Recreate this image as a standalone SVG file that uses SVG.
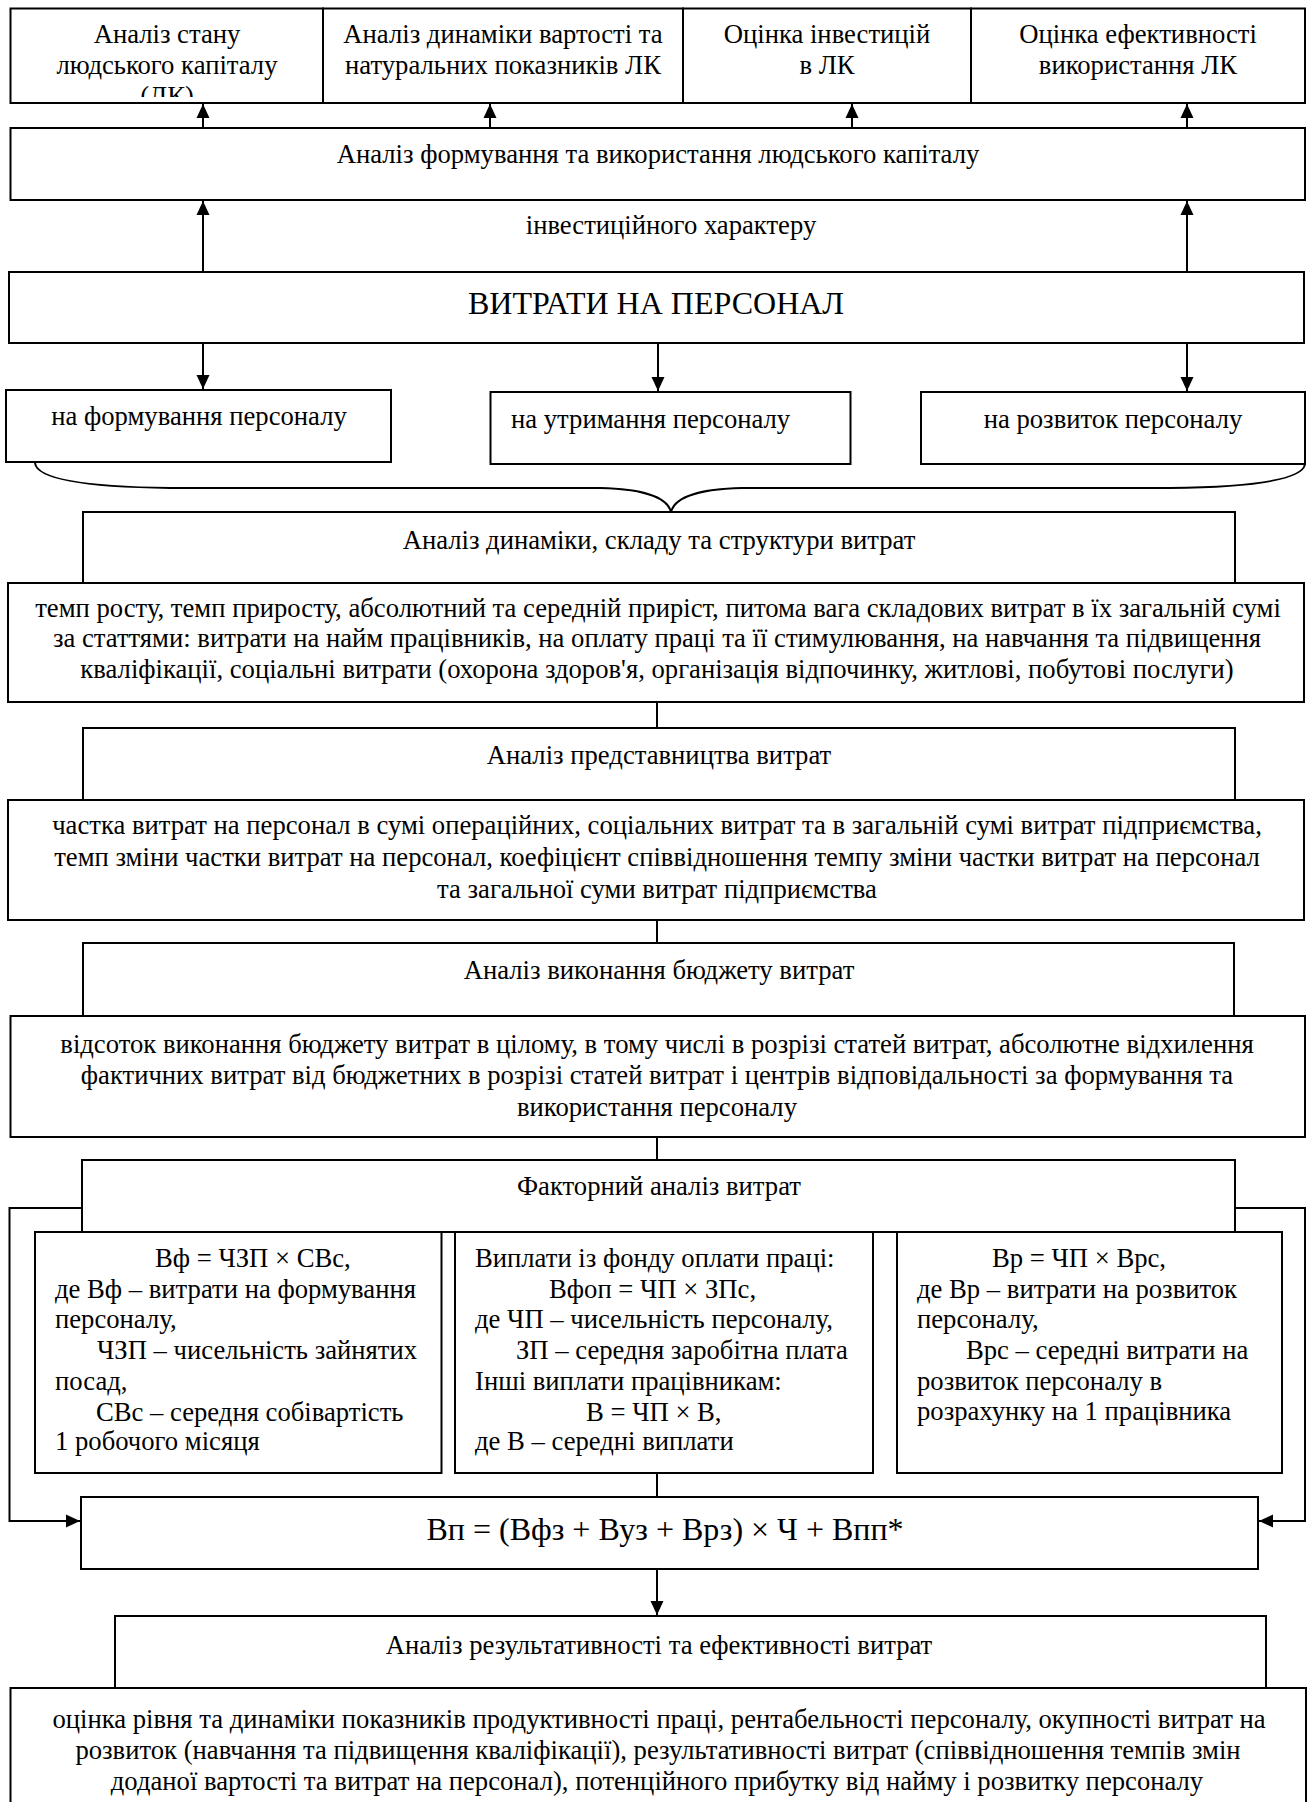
<svg xmlns="http://www.w3.org/2000/svg" width="1312" height="1802" viewBox="0 0 1312 1802">
<style>
.box{fill:#fff;stroke:#000;stroke-width:2}
.t{font-family:'Liberation Serif','Times New Roman',serif;font-size:26.67px;fill:#000}
.c{text-anchor:middle}
.big{font-size:32px}
.fm{font-size:32px}
.ln{fill:none;stroke:#000;stroke-width:2}
</style>
<defs>
<marker id="ah" markerUnits="userSpaceOnUse" markerWidth="14" markerHeight="14" refX="14" refY="7" orient="auto">
<path d="M0,0.5 L14,7 L0,13.5 z" fill="#000"/>
</marker>
<clipPath id="clip1"><rect x="10" y="8" width="313" height="89"/></clipPath>
</defs>
<rect width="1312" height="1802" fill="#fff"/>

<g id="connectors">
<path class="ln" d="M203,128 V104" marker-end="url(#ah)"/>
<path class="ln" d="M490,128 V104" marker-end="url(#ah)"/>
<path class="ln" d="M852,128 V104" marker-end="url(#ah)"/>
<path class="ln" d="M1187,128 V104" marker-end="url(#ah)"/>
<path class="ln" d="M203,272 V201" marker-end="url(#ah)"/>
<path class="ln" d="M1187,272 V201" marker-end="url(#ah)"/>
<path class="ln" d="M203,343 V389" marker-end="url(#ah)"/>
<path class="ln" d="M658,343 V391" marker-end="url(#ah)"/>
<path class="ln" d="M1187,343 V391" marker-end="url(#ah)"/>
<path class="ln" d="M35,463 C37,480 90,487 170,488 L600,488 C650,489 668,500 671,512 C674,500 692,489 742,488 L1170,488 C1250,487 1303,480 1305,464"/>
<path class="ln" d="M657,702 V728"/>
<path class="ln" d="M657,920 V943"/>
<path class="ln" d="M657,1137 V1160"/>
<path class="ln" d="M82,1208 H9.5 V1521 H80" marker-end="url(#ah)"/>
<path class="ln" d="M1235,1208 H1305 V1521 H1259" marker-end="url(#ah)"/>
<path class="ln" d="M657,1473 V1497"/>
<path class="ln" d="M657,1569 V1615" marker-end="url(#ah)"/>
</g>

<g id="n1">
<rect class="box" x="10.5" y="8.5" width="312.5" height="94.5"/>
<text class="t c" x="167" y="43">Аналіз стану</text>
<text class="t c" x="167" y="74">людського капіталу</text>
<text class="t c" x="167" y="105" clip-path="url(#clip1)">(ЛК)</text>
</g>
<g id="n2">
<rect class="box" x="323" y="8.5" width="360" height="94.5"/>
<text class="t c" x="503" y="43">Аналіз динаміки вартості та</text>
<text class="t c" x="503" y="74">натуральних показників ЛК</text>
</g>
<g id="n3">
<rect class="box" x="683" y="8.5" width="288" height="94.5"/>
<text class="t c" x="827" y="43">Оцінка інвестицій</text>
<text class="t c" x="827" y="74">в ЛК</text>
</g>
<g id="n4">
<rect class="box" x="971" y="8.5" width="334" height="94.5"/>
<text class="t c" x="1138" y="43">Оцінка ефективності</text>
<text class="t c" x="1138" y="74">використання ЛК</text>
</g>

<g id="n5">
<rect class="box" x="10.5" y="128" width="1294.5" height="72"/>
<text class="t c" x="658" y="163">Аналіз формування та використання людського капіталу</text>
</g>
<g id="lbl">
<text class="t c" x="671" y="234">інвестиційного характеру</text>
</g>
<g id="n6">
<rect class="box" x="9" y="272" width="1295" height="71"/>
<text class="t c big" x="656" y="314">ВИТРАТИ НА ПЕРСОНАЛ</text>
</g>
<g id="n7">
<rect class="box" x="6" y="390" width="385" height="72"/>
<text class="t c" x="199" y="425">на формування персоналу</text>
</g>
<g id="n8">
<rect class="box" x="490.5" y="392" width="360" height="72"/>
<text class="t" x="511" y="428">на утримання персоналу</text>
</g>
<g id="n9">
<rect class="box" x="921" y="392" width="384" height="72"/>
<text class="t c" x="1113" y="428">на розвиток персоналу</text>
</g>

<g id="n10">
<rect class="box" x="83" y="512" width="1152" height="71"/>
<text class="t c" x="659" y="549">Аналіз динаміки, складу та структури витрат</text>
</g>
<g id="n11">
<rect class="box" x="8" y="583" width="1296" height="119"/>
<text class="t c" x="658" y="617">темп росту, темп приросту, абсолютний та середній приріст, питома вага складових витрат в їх загальній сумі</text>
<text class="t c" x="657" y="647">за статтями: витрати на найм працівників, на оплату праці та її стимулювання, на навчання та підвищення</text>
<text class="t c" x="657" y="678">кваліфікації, соціальні витрати (охорона здоров'я, організація відпочинку, житлові, побутові послуги)</text>
</g>
<g id="n12">
<rect class="box" x="83" y="728" width="1152" height="72"/>
<text class="t c" x="659" y="764">Аналіз представництва витрат</text>
</g>
<g id="n13">
<rect class="box" x="8" y="800" width="1296" height="120"/>
<text class="t c" x="657" y="834">частка витрат на персонал в сумі операційних, соціальних витрат та в загальній сумі витрат підприємства,</text>
<text class="t c" x="657" y="866">темп зміни частки витрат на персонал, коефіцієнт співвідношення темпу зміни частки витрат на персонал</text>
<text class="t c" x="657" y="898">та загальної суми витрат підприємства</text>
</g>
<g id="n14">
<rect class="box" x="83" y="943" width="1151" height="73"/>
<text class="t c" x="659" y="979">Аналіз виконання бюджету витрат</text>
</g>
<g id="n15">
<rect class="box" x="10.5" y="1016" width="1294.5" height="121"/>
<text class="t c" x="657" y="1053">відсоток виконання бюджету витрат в цілому, в тому числі в розрізі статей витрат, абсолютне відхилення</text>
<text class="t c" x="657" y="1084">фактичних витрат від бюджетних в розрізі статей витрат і центрів відповідальності за формування та</text>
<text class="t c" x="657" y="1116">використання персоналу</text>
</g>
<g id="n16">
<rect class="box" x="82" y="1160" width="1153" height="72"/>
<text class="t c" x="659" y="1195">Факторний аналіз витрат</text>
</g>

<g id="n17">
<rect class="box" x="35" y="1232" width="406.5" height="241"/>
<text class="t" x="155" y="1267">Вф = ЧЗП × СВс,</text>
<text class="t" x="55" y="1298">де Вф – витрати на формування</text>
<text class="t" x="55" y="1328">персоналу,</text>
<text class="t" x="97" y="1359">ЧЗП – чисельність зайнятих</text>
<text class="t" x="55" y="1390">посад,</text>
<text class="t" x="96" y="1421">СВс – середня собівартість</text>
<text class="t" x="55" y="1450">1 робочого місяця</text>
</g>
<g id="n18">
<rect class="box" x="455" y="1232" width="418" height="241"/>
<text class="t" x="475" y="1267">Виплати із фонду оплати праці:</text>
<text class="t" x="549" y="1298">Вфоп = ЧП × ЗПс,</text>
<text class="t" x="475" y="1328">де ЧП – чисельність персоналу,</text>
<text class="t" x="516" y="1359">ЗП – середня заробітна плата</text>
<text class="t" x="475" y="1390">Інші виплати працівникам:</text>
<text class="t" x="586" y="1421">В = ЧП × В,</text>
<text class="t" x="475" y="1450">де В – середні виплати</text>
</g>
<g id="n19">
<rect class="box" x="897" y="1232" width="385" height="241"/>
<text class="t" x="992" y="1267">Вр = ЧП × Врс,</text>
<text class="t" x="917" y="1298">де Вр – витрати на розвиток</text>
<text class="t" x="917" y="1328">персоналу,</text>
<text class="t" x="966" y="1359">Врс – середні витрати на</text>
<text class="t" x="917" y="1390">розвиток персоналу в</text>
<text class="t" x="917" y="1420">розрахунку на 1 працівника</text>
</g>

<g id="n20">
<rect class="box" x="81" y="1497" width="1177" height="72"/>
<text class="t c fm" x="665" y="1540">Вп = (Вфз + Вуз + Врз) × Ч + Впп*</text>
</g>
<g id="n21">
<rect class="box" x="115" y="1616" width="1151" height="72"/>
<text class="t c" x="659" y="1654">Аналіз результативності та ефективності витрат</text>
</g>
<g id="n22">
<rect class="box" x="10.5" y="1688" width="1295.5" height="130"/>
<text class="t c" x="659" y="1728">оцінка рівня та динаміки показників продуктивності праці, рентабельності персоналу, окупності витрат на</text>
<text class="t c" x="658" y="1759">розвиток (навчання та підвищення кваліфікації), результативності витрат (співвідношення темпів змін</text>
<text class="t c" x="657" y="1790">доданої вартості та витрат на персонал), потенційного прибутку від найму і розвитку персоналу</text>
</g>
</svg>
